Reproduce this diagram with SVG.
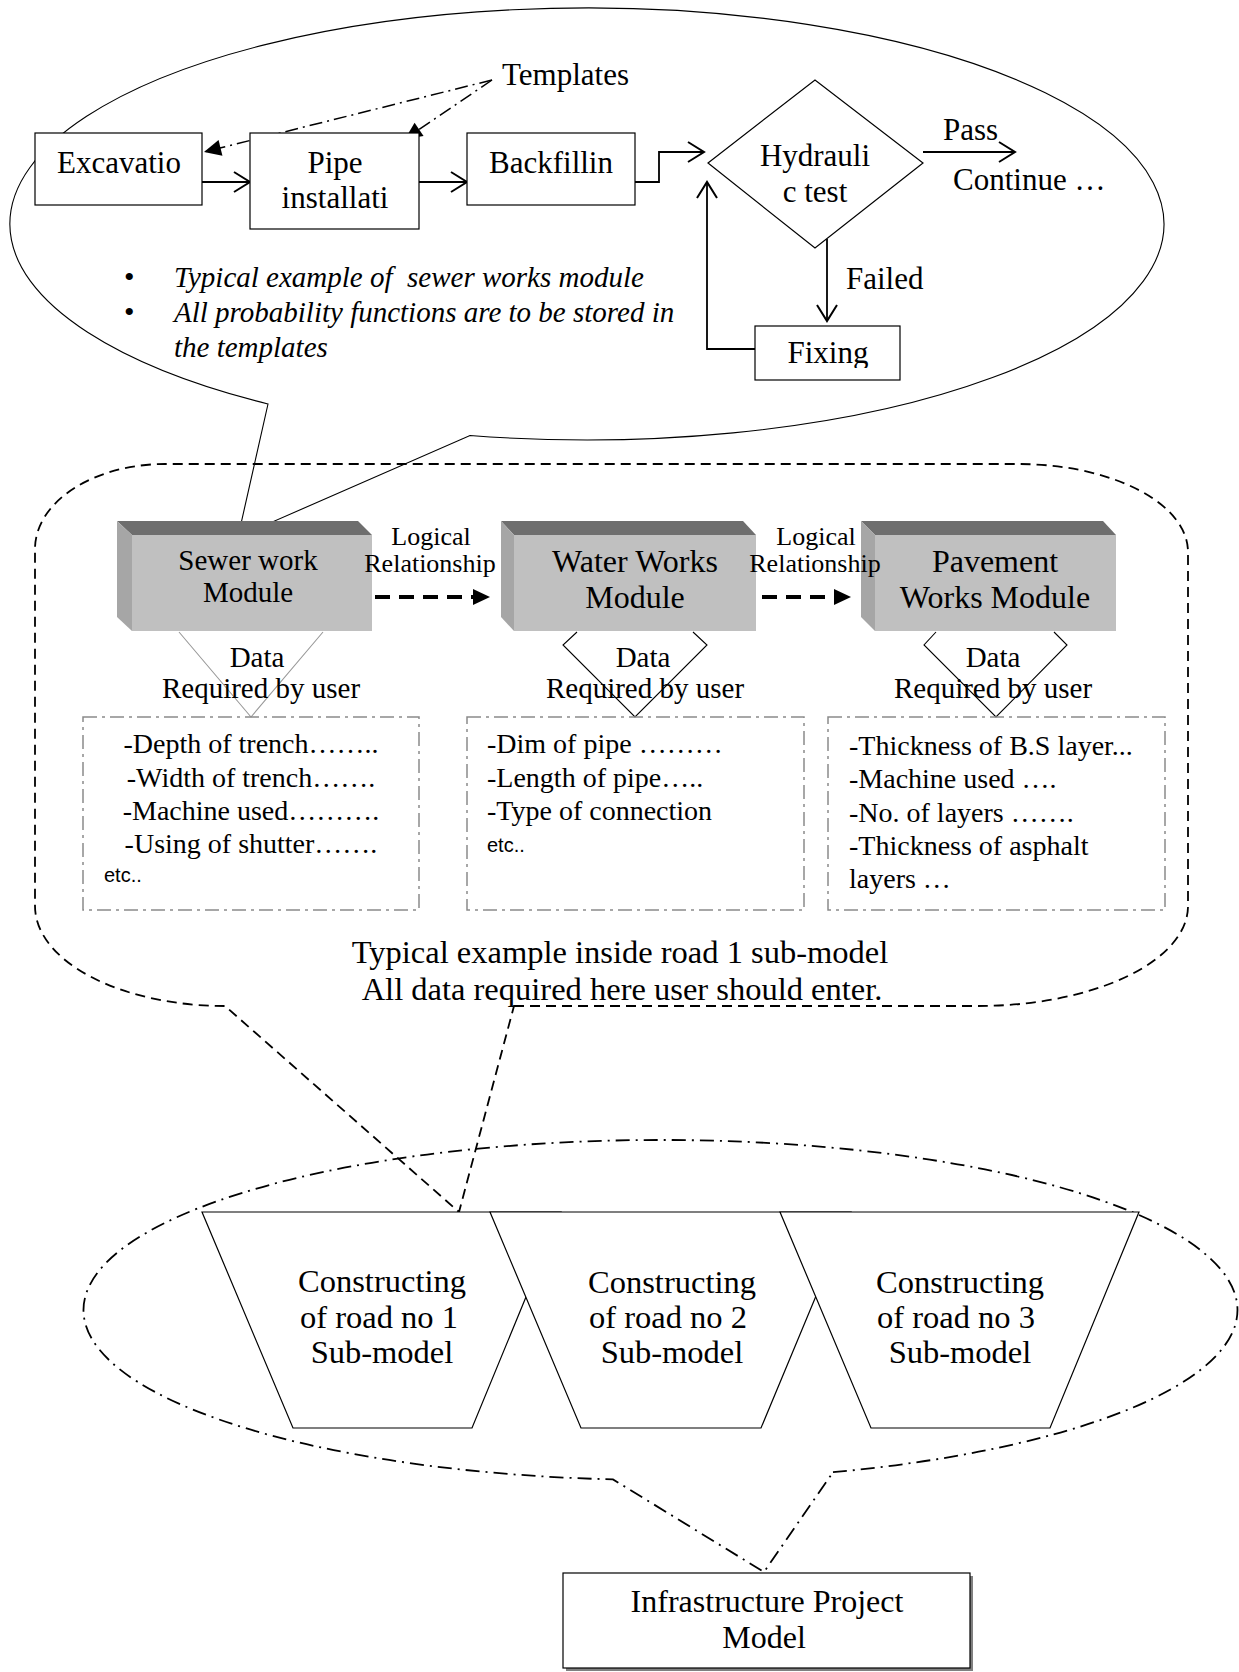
<svg xmlns="http://www.w3.org/2000/svg" width="1239" height="1672" viewBox="0 0 1239 1672">
  <defs>
    <style>
      text { font-family: "Liberation Serif", "Times New Roman", serif; fill: #000; }
      .c { text-anchor: middle; }
      .f26 { font-size: 26px; }
      .f28 { font-size: 28px; }
      .f29 { font-size: 29px; }
      .f31 { font-size: 31px; }
      .f32 { font-size: 32px; }
      .f325 { font-size: 32.5px; }
      .bullet { font-size: 30px; font-style: normal; }
      .it { font-size: 29px; font-style: italic; }
      .sans { font-family: "Liberation Sans", Arial, sans-serif; font-size: 20px; }
      .box { fill: #fff; stroke: #000; stroke-width: 1.2; }
      .conn { fill: none; stroke: #000; stroke-width: 1.8; }
      .thin { fill: none; stroke: #000; stroke-width: 1.1; }
      .tmpl { fill: none; stroke: #000; stroke-width: 1.5; stroke-dasharray: 13 5 2 5; }
      .dash { fill: none; stroke: #000; stroke-width: 1.8; stroke-dasharray: 10 6; }
      .dashdot { fill: none; stroke: #000; stroke-width: 1.8; stroke-dasharray: 14 6 2 6; }
      .databox { fill: none; stroke: #8a8a8a; stroke-width: 1.5; stroke-dasharray: 14 5 3 5; }
      .logic { fill: none; stroke: #000; stroke-width: 4; stroke-dasharray: 15 9; }
      .top { fill: #6e6e6e; }
      .side { fill: #a6a6a6; }
      .front { fill: #c0c0c0; }
    </style>
    <marker id="chev" markerUnits="userSpaceOnUse" markerWidth="22" markerHeight="24" refX="17" refY="11" orient="auto" overflow="visible">
      <path d="M1,1 L17,11 L1,21" fill="none" stroke="#000" stroke-width="2"/>
    </marker>
    <marker id="tri" markerUnits="userSpaceOnUse" markerWidth="20" markerHeight="18" refX="17" refY="8" orient="auto" overflow="visible">
      <path d="M0,0 L17,8 L0,16 Z" fill="#000"/>
    </marker>
    <clipPath id="fixclip">
      <rect x="755" y="326" width="145" height="42"/>
    </clipPath>
  </defs>

  <rect width="1239" height="1672" fill="#fff"/>

  <!-- callout outlines -->
  <g id="callouts">
    <path id="sewer-callout" class="thin" d="M470,435.5 A577,216 0 1 0 268,404 L238,537 Z"/>
    <path id="road-callout" class="dash" d="M514,1006 L978,1006 A210,100 0 0 0 1188,906 L1188,552 A170,88 0 0 0 1018,464 L165,464 A130,85 0 0 0 35,549 L35,906 A190,100 0 0 0 225,1006 L459,1212 Z"/>
    <path id="project-callout" class="dashdot" d="M833,1472.2 A577,170 0 1 0 613,1479.4 L764,1572 Z"/>
  </g>

  <!-- connectors -->
  <g id="connectors">
    <line class="tmpl" x1="492" y1="80" x2="204" y2="152" marker-end="url(#tri)"/>
    <line class="tmpl" x1="492" y1="80" x2="405" y2="139" marker-end="url(#tri)"/>
    <line class="conn" x1="202" y1="182" x2="250" y2="182" marker-end="url(#chev)"/>
    <line class="conn" x1="419" y1="182" x2="467" y2="182" marker-end="url(#chev)"/>
    <polyline class="conn" points="635,182 659,182 659,152 704,152" marker-end="url(#chev)"/>
    <line class="conn" x1="923" y1="152" x2="1015" y2="152" marker-end="url(#chev)"/>
    <line class="conn" x1="827" y1="239" x2="827" y2="321" marker-end="url(#chev)"/>
    <polyline class="conn" points="755,349 707,349 707,182" marker-end="url(#chev)"/>
    <line class="logic" x1="375" y1="597" x2="474" y2="597"/>
    <polygon points="473,589 490,597 473,605" fill="#000"/>
    <line class="logic" x1="762" y1="597" x2="835" y2="597"/>
    <polygon points="834,589 851,597 834,605" fill="#000"/>
    <polyline fill="none" stroke="#999" stroke-width="1.1" points="179,632 251,717 323,632"/>
    <polyline class="thin" points="577,632 563,645 635,717 707,645 693,632"/>
    <polyline class="thin" points="936,632 924,645 996,717 1067,645 1054,632"/>
  </g>

  <!-- sewer works flow -->
  <g id="templates">
    <text class="f31" x="502" y="85">Templates</text>
  </g>
  <g id="excavation">
    <rect class="box" x="35" y="133" width="167" height="72"/>
    <text class="f31 c" x="119" y="173">Excavatio</text>
  </g>
  <g id="pipe-installation">
    <rect class="box" x="250" y="133" width="169" height="96"/>
    <text class="f31 c" x="335" y="173">Pipe</text>
    <text class="f31 c" x="335" y="208">installati</text>
  </g>
  <g id="backfilling">
    <rect class="box" x="467" y="133" width="168" height="72"/>
    <text class="f31 c" x="551" y="173">Backfillin</text>
  </g>
  <g id="hydraulic-test">
    <polygon class="box" points="708,163 815,80 923,163 815,248"/>
    <text class="f31 c" x="815" y="166">Hydrauli</text>
    <text class="f31 c" x="815" y="202">c test</text>
  </g>
  <g id="pass-label">
    <text class="f31" x="943" y="140">Pass</text>
  </g>
  <g id="continue">
    <text class="f31" x="953" y="190">Continue …</text>
  </g>
  <g id="failed-label">
    <text class="f31" x="846" y="289">Failed</text>
  </g>
  <g id="fixing">
    <rect class="box" x="755" y="326" width="145" height="54"/>
    <text class="f31 c" x="828" y="363" clip-path="url(#fixclip)">Fixing</text>
  </g>
  <g id="notes">
    <text class="it" y="287" xml:space="preserve"><tspan class="bullet" x="124">•</tspan><tspan x="174">Typical example of  sewer works module</tspan></text>
    <text class="it" y="322"><tspan class="bullet" x="124">•</tspan><tspan x="174">All probability functions are to be stored in</tspan></text>
    <text class="it" x="174" y="357">the templates</text>
  </g>

  <!-- road sub-model modules -->
  <g id="sewer-module">
    <polygon class="top" points="117,521 358,521 372,535 132,535"/>
    <polygon class="side" points="117,521 132,535 132,631 117,617"/>
    <rect class="front" x="132" y="535" width="240" height="96"/>
    <text class="f29 c" x="248" y="570">Sewer work</text>
    <text class="f29 c" x="248" y="602">Module</text>
  </g>
  <g id="water-module">
    <polygon class="top" points="501,521 743,521 756,535 514,535"/>
    <polygon class="side" points="501,521 514,535 514,631 501,617"/>
    <rect class="front" x="514" y="535" width="242" height="96"/>
    <text class="f32 c" x="635" y="572">Water Works</text>
    <text class="f32 c" x="635" y="608">Module</text>
  </g>
  <g id="pavement-module">
    <polygon class="top" points="861,521 1103,521 1116,535 875,535"/>
    <polygon class="side" points="861,521 875,535 875,631 861,617"/>
    <rect class="front" x="875" y="535" width="241" height="96"/>
    <text class="f32 c" x="995" y="572">Pavement</text>
    <text class="f32 c" x="995" y="608">Works Module</text>
  </g>
  <g id="logic-1">
    <text class="f26 c" x="431" y="545">Logical</text>
    <text class="f26 c" x="430" y="572">Relationship</text>
  </g>
  <g id="logic-2">
    <text class="f26 c" x="816" y="545">Logical</text>
    <text class="f26 c" x="815" y="572">Relationship</text>
  </g>

  <!-- data required by user -->
  <g id="sewer-data">
    <text class="f29 c" x="257" y="667">Data</text>
    <text class="f29 c" x="261" y="698">Required by user</text>
    <rect class="databox" x="83" y="717" width="336" height="193"/>
    <text class="f28 c" x="251" y="753">-Depth of trench……..</text>
    <text class="f28 c" x="251" y="787">-Width of trench…….</text>
    <text class="f28 c" x="251" y="820">-Machine used……….</text>
    <text class="f28 c" x="251" y="853">-Using of shutter…….</text>
    <text class="sans" x="104" y="882">etc..</text>
  </g>
  <g id="water-data">
    <text class="f29 c" x="643" y="667">Data</text>
    <text class="f29 c" x="645" y="698">Required by user</text>
    <rect class="databox" x="467" y="717" width="337" height="193"/>
    <text class="f28" x="487" y="753">-Dim of pipe ………</text>
    <text class="f28" x="487" y="787">-Length of pipe…..</text>
    <text class="f28" x="487" y="820">-Type of connection</text>
    <text class="sans" x="487" y="852">etc..</text>
  </g>
  <g id="pavement-data">
    <text class="f29 c" x="993" y="667">Data</text>
    <text class="f29 c" x="993" y="698">Required by user</text>
    <rect class="databox" x="828" y="717" width="337" height="193"/>
    <text class="f28" x="849" y="755">-Thickness of B.S layer...</text>
    <text class="f28" x="849" y="788">-Machine used ….</text>
    <text class="f28" x="849" y="822">-No. of layers …….</text>
    <text class="f28" x="849" y="855">-Thickness of asphalt</text>
    <text class="f28" x="849" y="888">layers …</text>
  </g>
  <g id="caption">
    <text class="f325 c" x="620" y="963">Typical example inside road 1 sub-model</text>
    <text class="f325 c" x="622" y="1000">All data required here user should enter.</text>
  </g>

  <!-- road sub-models -->
  <g id="road-1">
    <polygon class="box" points="202,1212 561,1212 472,1428 293,1428"/>
    <text class="f325 c" x="382" y="1292">Constructing</text>
    <text class="f325 c" x="379" y="1328">of road no 1</text>
    <text class="f325 c" x="382" y="1363">Sub-model</text>
  </g>
  <g id="road-2">
    <polygon class="box" points="490,1212 851,1212 761,1428 581,1428"/>
    <text class="f325 c" x="672" y="1293">Constructing</text>
    <text class="f325 c" x="668" y="1328">of road no 2</text>
    <text class="f325 c" x="672" y="1363">Sub-model</text>
  </g>
  <g id="road-3">
    <polygon class="box" points="780,1212 1139,1212 1050,1428 871,1428"/>
    <text class="f325 c" x="960" y="1293">Constructing</text>
    <text class="f325 c" x="956" y="1328">of road no 3</text>
    <text class="f325 c" x="960" y="1363">Sub-model</text>
  </g>

  <!-- project model -->
  <g id="project-model">
    <rect x="566" y="1576" width="407" height="95" fill="#808080"/>
    <rect class="box" x="563" y="1573" width="407" height="95"/>
    <text class="f32 c" x="767" y="1612">Infrastructure Project</text>
    <text class="f32 c" x="764" y="1648">Model</text>
  </g>
</svg>
